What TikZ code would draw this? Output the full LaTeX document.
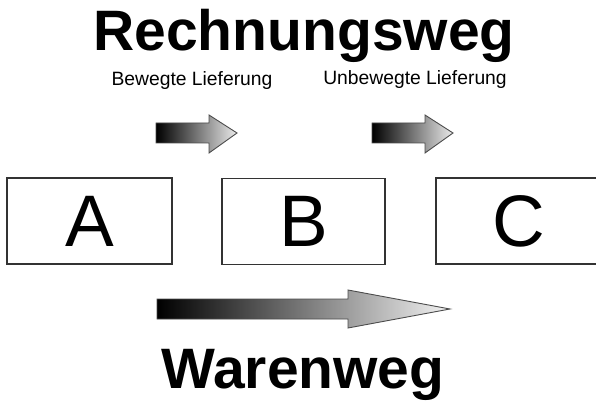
\documentclass[tikz,border=0pt]{standalone}
\usepackage{fontspec}
\setmainfont{Liberation Sans}
\begin{document}
\begin{tikzpicture}[x=1pt,y=-1pt]
    % Define styles
    \tikzset{
        kasten/.style={draw=black!80, line width=1.4pt, minimum width=165pt, minimum height=86pt, inner sep=0pt, font=\fontsize{73}{80}\selectfont},
        pfeil/.style={draw=black!70, line width=0.9pt, line join=miter, left color=black, right color=black!8},
        titel/.style={font=\fontsize{57}{62}\selectfont\bfseries, anchor=base, inner sep=0pt},
        klein/.style={font=\fontsize{19.3}{22}\selectfont, anchor=base, inner sep=0pt}
    }
    \useasboundingbox (0,0) rectangle (596,403);

    % Labels
    \node[titel] (rechnung) at (304,51) {Rechnungsweg};
    \node[klein] (bewegt) at (192,86) {Bewegte Lieferung};
    \node[klein] (unbewegt) at (415,85) {Unbewegte Lieferung};
    \node[titel] (waren) at (303,388) {Warenweg};

    % Boxes
    \node[kasten] (A) at (89.5,221) {A};
    \node[kasten, minimum width=163pt] (B) at (303.5,221.5) {B};
    \node[kasten] (C) at (518.5,221) {C};

    % Small arrows
    \draw[pfeil] (156,123) -- (209,123) -- (209,115) -- (237,133) -- (209,153) -- (209,143) -- (156,143) -- cycle;
    \draw[pfeil] (372,123) -- (425,123) -- (425,115) -- (453,133) -- (425,153) -- (425,143) -- (372,143) -- cycle;
    % Big arrow
    \draw[pfeil, right color=black!5] (157,299) -- (348,299) -- (348,290) -- (450,309) -- (348,328) -- (348,319) -- (157,319) -- cycle;
\end{tikzpicture}
\end{document}
